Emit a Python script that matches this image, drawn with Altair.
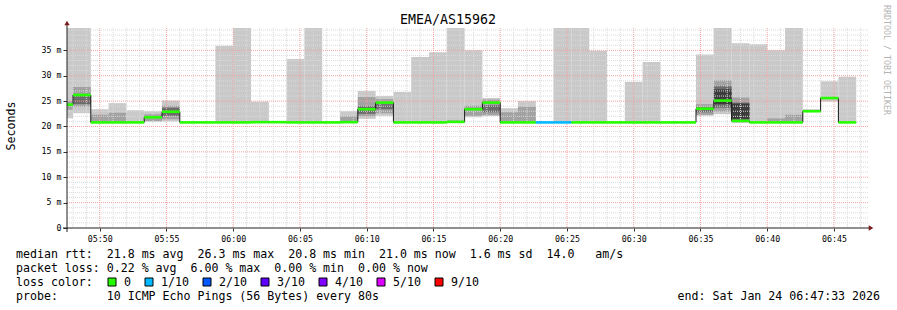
import altair as alt
import pandas as pd
import json

# ---------------- data ----------------
# time in minutes after 05:00 ; window 05:47:33 .. 06:47:33
t_start = 47.55
t_end = 107.55
step = 80 / 60.0          # 80 s consolidation step
first_bin = 48 - step     # first (partial) bin start

tick_minutes = [50, 55, 60, 65, 70, 75, 80, 85, 90, 95, 100, 105]
tick_labels = ["05:50", "05:55", "06:00", "06:05", "06:10", "06:15",
               "06:20", "06:25", "06:30", "06:35", "06:40", "06:45"]
y_ticks = [0, 5, 10, 15, 20, 25, 30, 35]
y_max = 39.4

median = [24.3, 26.2, 20.8, 20.8, 20.8, 21.8, 22.9, 20.8, 20.8, 20.8,
          20.8, 20.85, 20.85, 20.8, 20.8, 20.8, 20.85, 23.4, 24.7, 20.8,
          20.8, 20.8, 20.9, 23.4, 24.7, 20.8, 20.8, 20.8, 20.8, 20.8,
          20.8, 20.8, 20.8, 20.8, 20.8, 20.8, 23.5, 25.1, 21.1, 20.8,
          20.8, 20.8, 23.0, 25.6, 20.8]
loss = [0] * 27 + [1, 1] + [0] * 16

smoke_light = [(21.6, 39.4), (22.6, 39.4), (20.8, 23.4), (20.8, 24.6), (20.8, 23.2),
               (21.0, 23.0), (21.0, 25.1), None, None, (20.8, 35.9),
               (20.8, 39.4), (20.8, 24.9), None, (20.8, 33.3), (20.8, 39.4),
               None, (20.8, 23.0), (21.5, 27.0), (22.1, 26.0), (20.8, 26.8),
               (20.8, 33.7), (20.8, 34.6), (20.8, 39.4), (21.8, 35.0), (22.1, 25.6),
               (20.8, 23.6), (20.8, 25.0), None, (20.8, 39.4), (20.8, 39.4),
               (20.8, 34.9), None, (20.8, 28.8), (20.8, 32.7), None,
               None, (22.1, 34.2), (22.4, 39.4), (20.8, 36.4), (20.8, 36.2),
               (20.8, 35.0), (20.8, 39.4), (22.9, 23.4), (24.9, 28.9), (20.8, 29.8)]
smoke_mid = [(23.3, 25.0), (23.9, 27.8), (20.8, 22.3), (20.8, 22.7), None,
             (21.0, 22.4), (21.4, 24.1), None, None, None,
             None, None, None, None, None,
             None, (20.8, 22.0), (22.0, 25.8), (22.6, 25.4), None,
             None, None, (20.8, 21.2), (22.1, 24.1), (22.2, 25.3),
             (20.8, 22.8), (20.8, 23.9), None, None, None,
             None, None, None, None, None,
             None, (22.3, 24.4), (22.9, 29.1), (20.8, 25.7), None,
             (20.8, 21.6), (20.8, 22.3), None, None, None]
smoke_dark = [None, (24.4, 26.0), None, None, None,
              None, (22.1, 23.7), None, None, None,
              None, None, None, None, None,
              None, None, (22.5, 24.0), (23.4, 24.4), None,
              None, None, None, None, (22.8, 24.2),
              None, None, None, None, None,
              None, None, None, None, None,
              None, (22.8, 23.8), (23.7, 28.0), (21.2, 24.7), None,
              None, None, None, None, None]
smoke_deep = [None] * 37 + [(24.4, 27.3), (21.5, 24.5)] + [None] * 6

loss_keys = ["0", "1", "2", "3", "4", "5", "9"]
loss_labels = ["0", "1/10", "2/10", "3/10", "4/10", "5/10", "9/10"]
loss_colors = ["#26ff00", "#00b8ff", "#0059ff", "#5e00ff", "#7e00ff", "#dd00ff", "#ff0000"]

line_rtt = "median rtt:  21.8 ms avg  26.3 ms max  20.8 ms min  21.0 ms now  1.6 ms sd  14.0   am/s"
line_loss = "packet loss: 0.22 % avg  6.00 % max  0.00 % min  0.00 % now"
line_color = "loss color:"
line_probe = "probe:       10 ICMP Echo Pings (56 Bytes) every 80s"
line_end = "end: Sat Jan 24 06:47:33 2026"
title_text = "EMEA/AS15962"
y_title = "Seconds"
credit = "RRDTOOL / TOBI OETIKER"

# ---------------- layout ----------------
W, H = 801, 200
PL, PT = 67, 28
MONO = "DejaVu Sans Mono"

starts = [first_bin + step * i for i in range(len(median))]
ends = [s + step for s in starts]

xs = alt.Scale(domain=[t_start, t_end], nice=False, zero=False)
ys = alt.Scale(domain=[0, y_max], nice=False, zero=False)

label_expr = f"{json.dumps(tick_labels)}[indexof({json.dumps(tick_minutes)}, datum.value)]"
x_axis = alt.Axis(values=tick_minutes, labelExpr=label_expr, title=None, grid=False,
                  domain=False, ticks=True, tickSize=3, tickColor="#303030",
                  labelFont=MONO, labelFontSize=8.3, labelColor="#000000",
                  labelPadding=3, labelFlush=False, labelOverlap=False)
y_axis = alt.Axis(values=y_ticks, labelExpr="datum.value == 0 ? '0' : datum.value + ' m'",
                  title=None, grid=False, domain=False, ticks=True, tickSize=4,
                  tickColor="#303030", labelFont=MONO, labelFontSize=8.3,
                  labelColor="#000000", labelPadding=2, labelOverlap=False)


def X(f):
    return alt.X(f, type="quantitative", scale=xs, axis=x_axis)


def Y(f):
    return alt.Y(f, type="quantitative", scale=ys, axis=y_axis)


def smoke_layer(ranges, color):
    rows = [dict(t0=starts[i], t1=ends[i], lo=r[0], hi=r[1])
            for i, r in enumerate(ranges) if r is not None]
    return alt.Chart(pd.DataFrame(rows)).mark_rect(color=color, clip=True).encode(
        x=X("t0"), x2="t1", y=Y("lo"), y2="hi")


layers = [
    smoke_layer(smoke_light, "#c9c9c9"),
    smoke_layer(smoke_mid, "#a2a2a2"),
    smoke_layer(smoke_dark, "#6c6c6c"),
    smoke_layer(smoke_deep, "#3c3c3c"),
]

# grid
minor_min = [m for m in range(48, 108) if m % 5 != 0]
minor_ms = [v for v in range(1, 40) if v % 5 != 0]
major_ms = [v for v in y_ticks if v > 0]
GRID = "#dadada"
MGRID = "#f4a0a0"
layers += [
    alt.Chart(pd.DataFrame({"m": minor_min})).mark_rule(
        color=GRID, strokeDash=[1, 1], strokeWidth=1).encode(
        x=X("m"), y=alt.value(0), y2=alt.value(H)),
    alt.Chart(pd.DataFrame({"v": minor_ms})).mark_rule(
        color=GRID, strokeDash=[1, 1], strokeWidth=1).encode(
        y=Y("v"), x=alt.value(0), x2=alt.value(W)),
    alt.Chart(pd.DataFrame({"m": tick_minutes})).mark_rule(
        color=MGRID, strokeDash=[1, 1], strokeWidth=1).encode(
        x=X("m"), y=alt.value(0), y2=alt.value(H)),
    alt.Chart(pd.DataFrame({"v": major_ms})).mark_rule(
        color=MGRID, strokeDash=[1, 1], strokeWidth=1).encode(
        y=Y("v"), x=alt.value(0), x2=alt.value(W)),
]

# median step line (black) and loss-coloured median segments
med_pts = pd.DataFrame({"t": starts + [ends[-1]], "med": median + [median[-1]]})
seg = pd.DataFrame({"t0": starts, "t1": ends, "med": median,
                    "loss": [str(v) for v in loss]})
layers += [
    alt.Chart(med_pts).mark_line(interpolate="step-after", color="#1a1a1a",
                                 strokeWidth=1, clip=True).encode(x=X("t"), y=Y("med")),
    alt.Chart(seg).mark_rule(strokeWidth=2.6, clip=True).encode(
        x=X("t0"), x2="t1", y=Y("med"),
        color=alt.Color("loss:N", scale=alt.Scale(domain=loss_keys, range=loss_colors),
                        legend=None)),
]

one = pd.DataFrame({"a": [0]})

# axis lines and arrows
layers += [
    alt.Chart(one).mark_rule(color="#202020", strokeWidth=1).encode(
        x=alt.value(0), y=alt.value(-4), y2=alt.value(H + 4)),
    alt.Chart(one).mark_rule(color="#202020", strokeWidth=1).encode(
        y=alt.value(H), x=alt.value(-4), x2=alt.value(W + 1)),
    alt.Chart(one).mark_point(shape="triangle-up", filled=True, size=28,
                              color="#7a1a1a", opacity=1).encode(
        x=alt.value(0), y=alt.value(-5)),
    alt.Chart(one).mark_point(shape="triangle-right", filled=True, size=28,
                              color="#7a1a1a", opacity=1).encode(
        x=alt.value(W + 3), y=alt.value(H)),
]


def label(text, ax, ay, size, color="#000000", align="left", angle=0,
          baseline="alphabetic"):
    t = text.replace(" ", "\u00a0")
    return alt.Chart(pd.DataFrame({"t": [t]})).mark_text(
        font=MONO, fontSize=size, color=color, align=align, baseline=baseline,
        angle=angle).encode(x=alt.value(ax - PL), y=alt.value(ay - PT), text="t:N")


layers += [
    label(title_text, 448, 24, 13.3, align="center"),
    label(y_title, 15, 126, 11.6, align="center", angle=270),
    label(credit, 886, 5, 8.3, color="#b4b4b4", align="left", angle=90, baseline="middle"),
    label(line_rtt, 16, 257.5, 11.6),
    label(line_loss, 16, 271.8, 11.6),
    label(line_color, 16, 286, 11.6),
    label(line_probe, 16, 300.2, 11.6),
    label(line_end, 880, 300.2, 11.6, align="right"),
]

# loss colour legend
px = 108
for lab, col in zip(loss_labels, loss_colors):
    layers.append(alt.Chart(one).mark_rect(color=col, stroke="#000000", strokeWidth=1).encode(
        x=alt.value(px - PL), x2=alt.value(px + 8 - PL),
        y=alt.value(278 - PT), y2=alt.value(286 - PT)))
    layers.append(label(lab, px + 16, 286, 11.6))
    px = px + 16 + len(lab) * 7 + 14

chart = alt.layer(*layers).properties(
    width=W, height=H,
    padding={"left": PL, "top": PT, "right": 897 - PL - W, "bottom": 310 - PT - H},
    autosize=alt.AutoSizeParams(type="none"),
    background="#ffffff",
).configure_view(stroke=None)

chart.save("out.html", embed_options={"renderer": "svg", "actions": False})
